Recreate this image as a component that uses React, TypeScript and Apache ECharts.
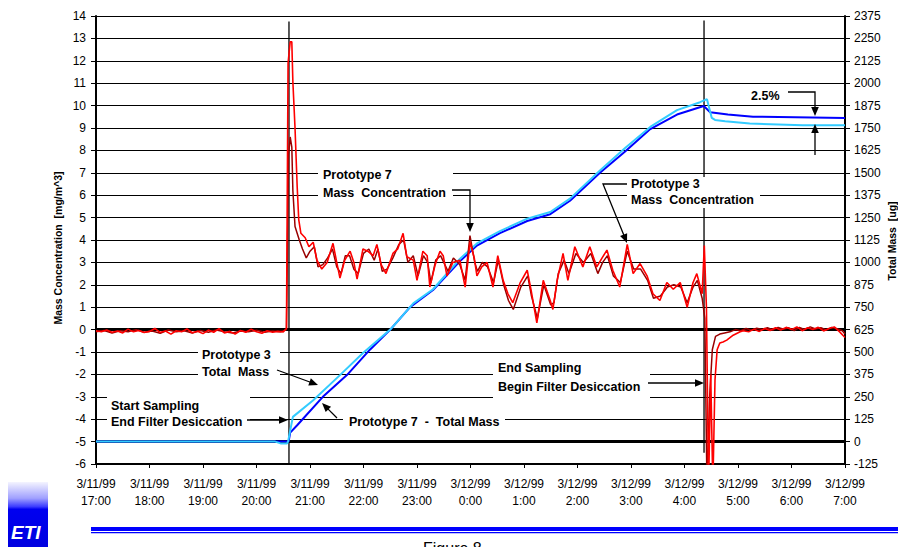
import React, { useEffect, useRef } from "react";
import * as echarts from "echarts";

// x values are hours after 3/11/99 17:00
const xTickLabels = [
  "3/11/99\n17:00", "3/11/99\n18:00", "3/11/99\n19:00", "3/11/99\n20:00", "3/11/99\n21:00",
  "3/11/99\n22:00", "3/11/99\n23:00", "3/12/99\n0:00", "3/12/99\n1:00", "3/12/99\n2:00",
  "3/12/99\n3:00", "3/12/99\n4:00", "3/12/99\n5:00", "3/12/99\n6:00", "3/12/99\n7:00",
];

// event times (hours after 17:00): start sampling, end sampling
const eventTimes = [3.607, 11.365];
// thick reference levels on the concentration axis (0 mg/m^3 and 0 ug)
const referenceLevels = [0, -5];

// Prototype 3 mass concentration [mg/m^3]
const p3Conc: number[][] = [
  [0, -0.05], [0.1, -0.1], [0.2, -0.02], [0.3, -0.12], [0.4, -0.06], [0.5, -0.15], [0.6, 0.02], [0.7, -0.1],
  [0.8, -0.04], [0.9, -0.13], [1.0, -0.08], [1.1, 0.05], [1.2, -0.12], [1.3, -0.06], [1.4, -0.2], [1.5, -0.05],
  [1.6, -0.1], [1.7, 0.03], [1.8, -0.14], [1.9, -0.07], [2.0, -0.18], [2.1, -0.02], [2.2, -0.12], [2.3, 0.04],
  [2.4, -0.15], [2.5, -0.08], [2.6, -0.2], [2.7, -0.04], [2.8, -0.12], [2.9, 0.02], [3.0, -0.1], [3.1, -0.16],
  [3.2, -0.05], [3.3, -0.12], [3.4, -0.08], [3.5, -0.1], [3.56, 0.05],
  [3.59, 11.9], [3.63, 12.85], [3.66, 12.85], [3.68, 11.05], [3.72, 9.0], [3.76, 6.4], [3.79, 4.9], [3.83, 4.3],
  [3.91, 4.1], [3.98, 3.7], [4.06, 3.9], [4.13, 3.1], [4.22, 2.7], [4.32, 3.0], [4.43, 3.85], [4.5, 3.0],
  [4.56, 2.3], [4.65, 3.1], [4.75, 3.5], [4.82, 3.0], [4.88, 2.25], [4.99, 3.6], [5.08, 3.5], [5.18, 3.3],
  [5.25, 3.8], [5.33, 2.9], [5.42, 2.5], [5.55, 3.4], [5.64, 3.6], [5.74, 4.3], [5.81, 3.25], [5.93, 3.1],
  [6.0, 2.2], [6.11, 3.5], [6.19, 3.3], [6.24, 1.9], [6.34, 2.9], [6.43, 3.5], [6.49, 3.3], [6.56, 2.4],
  [6.67, 3.0], [6.8, 3.1], [6.9, 1.9], [6.99, 3.9], [7.07, 3.2], [7.12, 2.4], [7.21, 2.8], [7.31, 3.0],
  [7.42, 1.9], [7.51, 3.3], [7.61, 2.2], [7.7, 1.6], [7.79, 1.2], [7.93, 2.1], [8.06, 2.65], [8.13, 1.8],
  [8.24, 0.3], [8.36, 2.2], [8.49, 1.3], [8.54, 0.9], [8.62, 2.2], [8.73, 3.4], [8.82, 2.2], [8.95, 3.7],
  [9.1, 2.8], [9.23, 3.7], [9.36, 2.8], [9.46, 3.2], [9.55, 3.55], [9.66, 2.65], [9.79, 1.9], [9.93, 3.8],
  [10.04, 2.5], [10.17, 2.95], [10.3, 2.4], [10.41, 1.6], [10.54, 1.3], [10.67, 2.1], [10.79, 1.8], [10.92, 2.1],
  [11.05, 1.0], [11.16, 2.1], [11.23, 2.5], [11.33, 1.6], [11.37, 3.75], [11.41, 1.0], [11.45, -7], [11.49, -2.0],
  [11.53, -7], [11.57, -2.25], [11.61, -0.9], [11.66, -0.6], [11.72, -0.55], [11.79, -0.47], [11.91, -0.25],
  [12.04, -0.1], [12.1, -0.05], [12.2, -0.1], [12.3, 0.02], [12.4, -0.08], [12.5, 0.05], [12.6, -0.04],
  [12.7, 0.08], [12.8, -0.02], [12.9, 0.1], [13.0, 0.0], [13.1, 0.12], [13.2, -0.05], [13.3, 0.08], [13.4, 0.0],
  [13.5, 0.1], [13.6, -0.06], [13.7, 0.05], [13.8, 0.12], [13.9, -0.1], [14.0, -0.35],
];

// Prototype 7 mass concentration [mg/m^3]
const p7Conc: number[][] = [
  [0, -0.1], [0.15, -0.04], [0.3, -0.15], [0.45, -0.05], [0.6, -0.1], [0.75, 0.0], [0.9, -0.12], [1.05, -0.06],
  [1.2, -0.16], [1.35, -0.02], [1.5, -0.1], [1.65, -0.05], [1.8, -0.15], [1.95, -0.04], [2.1, -0.12], [2.25, -0.02],
  [2.4, -0.1], [2.55, -0.15], [2.7, -0.06], [2.85, -0.1], [3.0, -0.03], [3.15, -0.12], [3.3, -0.06], [3.45, -0.1],
  [3.56, 0.0],
  [3.6, 7.8], [3.63, 8.6], [3.66, 8.15], [3.68, 6.2], [3.72, 4.6], [3.76, 4.3], [3.8, 4.0], [3.86, 3.6],
  [3.93, 3.2], [4.0, 3.5], [4.08, 3.7], [4.15, 2.8], [4.24, 2.9], [4.33, 3.2], [4.42, 3.6], [4.5, 2.8],
  [4.58, 2.5], [4.66, 3.3], [4.74, 3.3], [4.82, 2.7], [4.9, 2.5], [5.0, 3.4], [5.1, 3.6], [5.2, 3.1],
  [5.27, 3.6], [5.35, 2.6], [5.44, 2.7], [5.55, 3.2], [5.66, 3.8], [5.75, 4.0], [5.83, 3.0], [5.93, 3.3],
  [6.02, 2.4], [6.12, 3.3], [6.2, 3.0], [6.26, 2.1], [6.35, 3.1], [6.44, 3.3], [6.5, 3.0], [6.58, 2.6],
  [6.68, 3.2], [6.8, 2.9], [6.9, 2.2], [6.99, 4.2], [7.08, 3.0], [7.13, 2.6], [7.22, 3.0], [7.32, 2.8],
  [7.43, 2.1], [7.52, 3.1], [7.62, 2.0], [7.71, 1.3], [7.8, 0.9], [7.94, 1.9], [8.07, 2.4], [8.14, 1.5],
  [8.25, 0.5], [8.37, 2.0], [8.5, 1.1], [8.56, 1.2], [8.64, 2.5], [8.75, 3.1], [8.84, 2.5], [8.97, 3.4],
  [9.11, 3.0], [9.25, 3.4], [9.38, 2.5], [9.47, 3.0], [9.56, 3.3], [9.67, 2.4], [9.8, 2.1], [9.93, 3.5],
  [10.05, 2.7], [10.18, 2.7], [10.31, 2.2], [10.42, 1.4], [10.55, 1.5], [10.68, 1.9], [10.8, 2.0], [10.93, 1.9],
  [11.05, 1.2], [11.16, 1.9], [11.24, 2.2], [11.33, 1.4], [11.38, 0.5], [11.42, -7], [11.47, -3.0], [11.52, -0.9],
  [11.58, -0.3], [11.66, -0.2], [11.75, -0.15], [11.85, -0.1], [11.95, 0.0], [12.05, -0.05], [12.15, 0.05],
  [12.25, -0.03], [12.35, 0.06], [12.45, 0.0], [12.55, 0.08], [12.65, -0.02], [12.75, 0.1], [12.85, 0.02],
  [12.95, 0.08], [13.05, -0.04], [13.15, 0.1], [13.25, 0.0], [13.35, 0.12], [13.45, 0.03], [13.55, 0.08],
  [13.65, -0.02], [13.75, 0.1], [13.85, 0.04], [13.95, -0.05], [14.0, -0.2],
];

// Prototype 3 total mass [ug]
const p3Mass: number[][] = [
  [0, 0], [3.35, 0], [3.45, -10], [3.57, -10], [3.59, 0], [3.68, 138], [4.06, 231], [4.56, 371], [4.99, 494],
  [5.5, 625], [5.93, 771], [6.3, 850], [6.8, 1019], [7.12, 1106], [7.55, 1175], [8.06, 1244], [8.49, 1281],
  [8.86, 1356], [9.42, 1513], [9.89, 1638], [10.36, 1756], [10.86, 1850], [11.29, 1894], [11.42, 1911],
  [11.51, 1806], [11.57, 1795], [11.76, 1788], [12.22, 1775], [13.21, 1766], [14, 1766],
];

// Prototype 7 total mass [ug]
const p7Mass: number[][] = [
  [0, 0], [3.6, 0], [3.63, 50], [3.76, 91], [4.24, 250], [4.69, 371], [5.12, 513], [5.5, 625], [5.87, 750],
  [6.3, 846], [6.8, 1006], [7.12, 1094], [7.55, 1163], [8.06, 1231], [8.49, 1269], [8.86, 1344], [9.42, 1500],
  [9.89, 1619], [10.36, 1744], [10.86, 1825], [11.36, 1873], [11.48, 1838], [11.81, 1825], [12.28, 1813],
  [14, 1806],
];

const FONT = "'Liberation Sans', Arial, Helvetica, sans-serif";

function txt(x: number, y: number, text: string, size = 12.5, bold = true): any {
  return {
    type: "text", x, y, z: 60,
    style: { text, fontSize: size, fontWeight: bold ? "bold" : "normal", fontFamily: FONT, fill: "#000", align: "left", verticalAlign: "middle" },
  };
}
function vtxt(x: number, y: number, text: string): any {
  return {
    type: "text", x, y, z: 60, rotation: Math.PI / 2,
    style: { text, fontSize: 10.5, fontWeight: "bold", fontFamily: FONT, fill: "#000", align: "center", verticalAlign: "middle" },
  };
}
function box(x: number, y: number, w: number, h: number): any {
  return { type: "rect", z: 50, shape: { x, y, width: w, height: h }, style: { fill: "#fff" } };
}
function leader(pts: number[][]): any[] {
  const n = pts.length;
  const [xa, ya] = pts[n - 2];
  const [xb, yb] = pts[n - 1];
  const dx = xb - xa, dy = yb - ya;
  const L = Math.hypot(dx, dy);
  const ux = dx / L, uy = dy / L;
  const hl = 9, hw = 3.8;
  const bx = xb - ux * hl, by = yb - uy * hl;
  const line = pts.slice(0, n - 1).concat([[bx + ux, by + uy]]);
  return [
    { type: "polyline", z: 55, shape: { points: line }, style: { stroke: "#000", lineWidth: 1.3, fill: null } },
    { type: "polygon", z: 55, shape: { points: [[xb, yb], [bx - uy * hw, by + ux * hw], [bx + uy * hw, by - ux * hw]] }, style: { fill: "#000" } },
  ];
}

export default function App() {
  const ref = useRef<HTMLDivElement>(null);
  useEffect(() => {
    if (!ref.current) return;
    const chart = echarts.init(ref.current, undefined, { renderer: "svg" });

    const lineSeries = (name: string, data: number[][], color: string, width: number, yAxisIndex = 0): any => ({
      name, type: "line", data, yAxisIndex, symbol: "none", clip: true,
      lineStyle: { color, width }, itemStyle: { color }, emphasis: { disabled: true }, silent: true,
    });

    const series: any[] = [];
    referenceLevels.forEach((v, i) =>
      series.push(lineSeries("ref" + i, [[0, v], [14, v]], "#000", 3))
    );
    series.push(lineSeries("event0", [[eventTimes[0], 13.75], [eventTimes[0], -6]], "#000", 1.3));
    series.push(lineSeries("event1", [[eventTimes[1], 13.8], [eventTimes[1], -5.5]], "#000", 1.3));
    series.push(lineSeries("Prototype 7 - Total Mass", p7Mass, "#0000ff", 2, 1));
    series.push(lineSeries("Prototype 3 - Total Mass", p3Mass, "#33ccff", 2, 1));
    series.push(lineSeries("Prototype 7 Mass Concentration", p7Conc, "#990000", 1.5));
    series.push(lineSeries("Prototype 3 Mass Concentration", p3Conc, "#ff0000", 1.6));

    const logoFill = new echarts.graphic.LinearGradient(0, 0, 0, 1, [
      { offset: 0, color: "#f4f4ff" },
      { offset: 0.25, color: "#a0a0ff" },
      { offset: 0.38, color: "#3a3aff" },
      { offset: 0.42, color: "#0000f0" },
      { offset: 1, color: "#0000e0" },
    ]);

    const elements: any[] = [
      // axis titles
      { ...vtxt(58, 248, "Mass Concentration  [mg/m^3]"), rotation: Math.PI / 2 },
      vtxt(892, 241, "Total Mass  [ug]"),
      // Prototype 7 Mass Concentration
      box(318, 166, 135, 35), txt(323, 175, "Prototype 7"), txt(323, 193, "Mass  Concentration"),
      ...leader([[452, 190], [470, 190], [470, 232]]),
      // Prototype 3 Mass Concentration
      box(627, 177, 133, 31), txt(631, 184, "Prototype 3"), txt(631, 200, "Mass  Concentration"),
      ...leader([[627, 184], [603, 184], [627, 243]]),
      // 2.5%
      box(747, 88, 41, 16), txt(751, 96, "2.5%"),
      ...leader([[788, 92], [815, 92], [815, 116]]),
      ...leader([[815, 155], [815, 124]]),
      // End Sampling
      box(493, 357, 157, 43), txt(498, 368, "End Sampling"), txt(498, 387, "Begin Filter Desiccation"),
      ...leader([[648, 383], [704, 383]]),
      // Prototype 3 Total Mass
      box(198, 345, 82, 35), txt(202, 355, "Prototype 3"), txt(202, 372, "Total  Mass"),
      ...leader([[277, 370], [318, 385]]),
      // Start Sampling
      box(107, 395, 143, 35), txt(111, 406, "Start Sampling"), txt(111, 422, "End Filter Desiccation"),
      ...leader([[247, 420], [288, 420]]),
      // Prototype 7 - Total Mass
      box(343, 412, 162, 19), txt(349, 422, "Prototype 7  -  Total Mass"),
      ...leader([[337, 418], [322, 403]]),
      // logo
      { type: "rect", z: 10, shape: { x: 8, y: 482, width: 40, height: 65 }, style: { fill: logoFill } },
      { type: "text", z: 11, x: 11, y: 532, style: { text: "ETI", fontSize: 19, fontWeight: "bold", fontStyle: "italic", fontFamily: FONT, fill: "#fff", verticalAlign: "middle" } },
      // footer rules
      { type: "rect", z: 10, shape: { x: 91, y: 527, width: 807, height: 4 }, style: { fill: "#0000ff" } },
      { type: "rect", z: 10, shape: { x: 91, y: 532, width: 807, height: 1.3 }, style: { fill: "#0000ff" } },
      { type: "text", z: 10, x: 423, y: 540, style: { text: "Figure 8", fontSize: 16, fontFamily: FONT, fill: "#000", verticalAlign: "top" } },
    ];
    // rotate titles to read bottom-to-top
    elements[0].rotation = Math.PI / 2;
    elements[1].rotation = Math.PI / 2;

    chart.setOption({
      animation: false,
      backgroundColor: "#fff",
      grid: { left: 96, right: 53, top: 16, bottom: 83, containLabel: false, outerBoundsMode: "none" },
      xAxis: {
        type: "value", min: 0, max: 14, interval: 1,
        axisLine: { show: true, onZero: false, lineStyle: { color: "#000", width: 2 } },
        axisTick: { show: true, length: 4, lineStyle: { color: "#000", width: 1 } },
        axisLabel: {
          formatter: (v: number) => xTickLabels[Math.round(v)] ?? "",
          fontSize: 12, fontFamily: FONT, color: "#000", margin: 11, lineHeight: 17,
        },
        splitLine: { show: false },
      },
      yAxis: [
        {
          type: "value", position: "left", min: -6, max: 14, interval: 1,
          axisLine: { show: true, onZero: false, lineStyle: { color: "#000", width: 2 } },
          axisTick: { show: true, length: 5, lineStyle: { color: "#000" } },
          axisLabel: { fontSize: 12, fontFamily: FONT, color: "#000", margin: 10 },
          splitLine: { show: true, lineStyle: { color: "#000", width: 1 } },
        },
        {
          type: "value", position: "right", min: -125, max: 2375, interval: 125,
          axisLine: { show: true, onZero: false, lineStyle: { color: "#000", width: 2 } },
          axisTick: { show: true, length: 5, lineStyle: { color: "#000" } },
          axisLabel: { fontSize: 12, fontFamily: FONT, color: "#000", margin: 9, formatter: (v: number) => String(v) },
          splitLine: { show: false },
        },
      ],
      series,
      graphic: { elements },
    });

    return () => chart.dispose();
  }, []);

  return <div ref={ref} style={{ position: "fixed", left: 0, top: 0, width: 898, height: 547, background: "#fff" }} />;
}
